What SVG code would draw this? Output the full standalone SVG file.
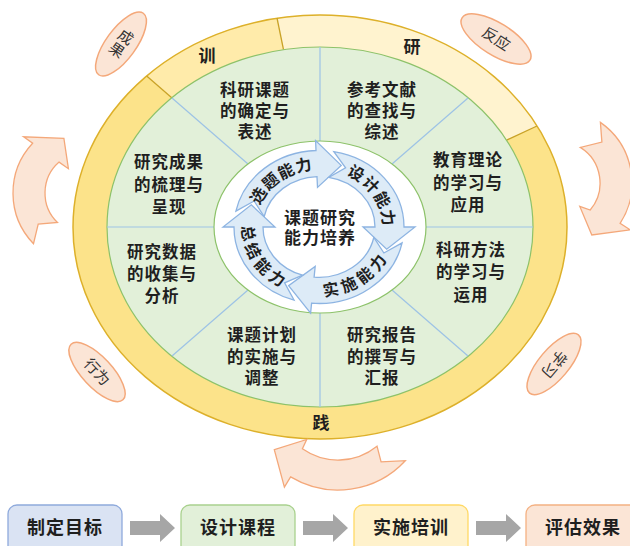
<svg xmlns="http://www.w3.org/2000/svg" width="630" height="546" viewBox="0 0 630 546">
<style>
.t{font-family:"Noto Sans CJK SC","Noto Sans",sans-serif;font-weight:700;fill:#1f1f1f}
.sec{font-size:16.5px;letter-spacing:1px;text-anchor:middle}
.ring{font-size:17px;text-anchor:middle}
.arc{font-size:16px;letter-spacing:1px;text-anchor:middle}
.arc2{font-size:16px;letter-spacing:4px;text-anchor:middle}
.ctr{font-size:17px;letter-spacing:1px;text-anchor:middle}
.box{font-size:18px;letter-spacing:1px;text-anchor:middle}
.lbl{font-family:"Noto Sans CJK SC",sans-serif;font-size:15px;fill:#333;text-anchor:middle}
.oval{fill:#FBE5D6;stroke:#F4A87A;stroke-width:1.5}
.carrow{fill:#FBE5D6;stroke:#F4A87A;stroke-width:1.3}
.barrow{fill:#DDEBF7;stroke:#8DB4E2;stroke-width:1.3}
.div{stroke:#9DC3E6;stroke-width:1.2}
.seg{stroke:#C9A227;stroke-width:1.3}
.garrow{fill:#A6A6A6}
</style>
<defs>
<path id="tp1" d="M257.2,212.1 A64,57.6 0 0 1 320.1,169.4"/>
<path id="tp2" d="M340.9,172.9 A64,57.6 0 0 1 382.6,233.0"/>
<path id="tp3" d="M312.3,296.0 A77,69.3 0 0 0 393.4,244.9"/>
<path id="tp4" d="M243.2,215.0 A77,69.3 0 0 0 295.2,292.9"/>
</defs>
<rect width="630" height="546" fill="#fff"/>
<g id="wheel">
<ellipse cx="320" cy="227" rx="247" ry="212" fill="#FCE38A"/>
<path d="M320,227 L146.7,76 A247,212 0 0 1 277,18 Z" fill="#FFEBAA"/>
<path d="M320,227 L277,18 A247,212 0 0 1 537,126 Z" fill="#FFF3CF"/>
<ellipse cx="320" cy="227" rx="247" ry="212" fill="none" stroke="#DDB02A" stroke-width="1.5"/>
<line class="seg" x1="146.7" y1="76" x2="172" y2="98"/>
<line class="seg" x1="277" y1="18" x2="283.5" y2="49.7"/>
<line class="seg" x1="537" y1="126" x2="506.6" y2="140.1"/>
<ellipse cx="320" cy="227" rx="213" ry="180" fill="#E2F0D9" stroke="#8DC26A" stroke-width="1.2"/>
<g class="div">
<line x1="320" y1="47" x2="320" y2="141"/>
<line x1="320" y1="313" x2="320" y2="407"/>
<line x1="107" y1="227" x2="214" y2="227"/>
<line x1="426" y1="227" x2="533" y2="227"/>
<line x1="172" y1="98" x2="248" y2="164"/>
<line x1="468" y1="98" x2="392" y2="164"/>
<line x1="172" y1="356" x2="248" y2="290"/>
<line x1="468" y1="356" x2="392" y2="290"/>
</g>
<ellipse cx="320" cy="227" rx="106" ry="86" fill="#fff" stroke="#8DC26A" stroke-width="1.2"/>
</g>
<g id="ring-labels">
<text class="t ring" x="207" y="62">训</text>
<text class="t ring" x="412" y="53">研</text>
<text class="t ring" x="321" y="429">践</text>
</g>
<g id="s1"><text class="t sec"><tspan x="255" y="96">科研课题</tspan><tspan x="255" y="117">的确定与</tspan><tspan x="255" y="138">表述</tspan></text></g>
<g id="s2"><text class="t sec"><tspan x="382" y="96">参考文献</tspan><tspan x="382" y="117">的查找与</tspan><tspan x="382" y="138">综述</tspan></text></g>
<g id="s3"><text class="t sec"><tspan x="468" y="166">教育理论</tspan><tspan x="468" y="189">的学习与</tspan><tspan x="468" y="211">应用</tspan></text></g>
<g id="s4"><text class="t sec"><tspan x="471" y="256">科研方法</tspan><tspan x="471" y="278">的学习与</tspan><tspan x="471" y="301">运用</tspan></text></g>
<g id="s5"><text class="t sec"><tspan x="382" y="341">研究报告</tspan><tspan x="382" y="363">的撰写与</tspan><tspan x="382" y="384">汇报</tspan></text></g>
<g id="s6"><text class="t sec"><tspan x="262" y="341">课题计划</tspan><tspan x="262" y="363">的实施与</tspan><tspan x="262" y="384">调整</tspan></text></g>
<g id="s7"><text class="t sec"><tspan x="162" y="258">研究数据</tspan><tspan x="162" y="280">的收集与</tspan><tspan x="162" y="302">分析</tspan></text></g>
<g id="s8"><text class="t sec"><tspan x="169" y="168">研究成果</tspan><tspan x="169" y="191">的梳理与</tspan><tspan x="169" y="213">呈现</tspan></text></g>
<g id="cycle-select">
<path class="barrow" d="M235.9,211.1 A85,76.5 0 0 1 316,150.5 L315.6,140.6 L341.2,165.4 L317.5,187.4 L317,176.6 A56,50.4 0 0 0 264.2,216.5 L254.1,201 Z"/>
<text class="t arc"><textPath href="#tp1" startOffset="50%">选题能力</textPath></text>
</g>
<g id="cycle-design">
<path class="barrow" d="M333.8,151.7 A85,76.5 0 0 1 404,227 L415,227 L386.7,249.2 L363,227 L375,227 A56,50.4 0 0 0 328.7,177.4 L345.6,167.8 Z"/>
<text class="t arc"><textPath href="#tp2" startOffset="50%">设计能力</textPath></text>
</g>
<g id="cycle-implement">
<path class="barrow" d="M402.1,242.9 A85,76.5 0 0 1 311.6,303.2 L310.6,313.1 L288.6,285.7 L315.2,266.4 L314.1,277.2 A56,50.4 0 0 0 373.8,237.5 L383.9,253 Z"/>
<text class="t arc2"><textPath href="#tp3" startOffset="50%">实施能力</textPath></text>
</g>
<g id="cycle-summary">
<path class="barrow" d="M294.1,300.2 A85,76.5 0 0 1 234,227 L223,227 L251.3,204.8 L275,227 L263,227 A56,50.4 0 0 0 302.6,275.2 L284.6,282.9 Z"/>
<text class="t arc2"><textPath href="#tp4" startOffset="50%">总结能力</textPath></text>
</g>
<g id="center"><text class="t ctr"><tspan x="320" y="224">课题研究</tspan><tspan x="320" y="244">能力培养</tspan></text></g>
<g id="label-chengguo"><ellipse class="oval" rx="38" ry="15" transform="translate(121,44) rotate(-54)"/><text class="lbl" transform="translate(125.6,37.5) rotate(35)" y="5">成</text><text class="lbl" transform="translate(116.4,50.5) rotate(35)" y="5">果</text></g>
<g id="label-fanying"><ellipse class="oval" rx="40" ry="16" transform="translate(496,39) rotate(32)"/><text class="lbl" transform="translate(496,39) rotate(33)" y="5">反应</text></g>
<g id="label-xingwei"><ellipse class="oval" rx="38" ry="15" transform="translate(97,372) rotate(47)"/><text class="lbl" transform="translate(97,372) rotate(47)" y="5">行为</text></g>
<g id="label-xuexi"><ellipse class="oval" rx="38" ry="15" transform="translate(554,364) rotate(-50)"/><text class="lbl" transform="translate(554,364) rotate(130)" y="5">学习</text></g>
<g id="connectors">
<path class="carrow" d="M33.5,243.7 A73,73 0 0 1 32.6,143.2 L23.6,136.8 L63.9,138.3 L68.4,168.7 L59.1,162.1 A41,41 0 0 0 57.5,222.5 L38.2,224 Z"/>
<path class="carrow" d="M600.4,122.4 A74,74 0 0 1 620.1,223.3 L630.1,229.8 L591.8,235 L579.8,206.4 L590.2,210 A42,42 0 0 0 580.3,147.4 L601.9,142.1 Z"/>
<path class="carrow" d="M405.3,460.7 A92,92 0 0 1 290.6,476.9 L284.4,487.1 L274.3,449.6 L306.7,439.5 L302.4,448.8 A62,62 0 0 0 377,446.2 L381.1,461.8 Z"/>
<path class="garrow" d="M130,521 H160 V514 L175,528 L160,542 V535 H130 Z"/>
<path class="garrow" d="M303,521 H333 V514 L348,528 L333,542 V535 H303 Z"/>
<path class="garrow" d="M476,521 H506 V514 L521,528 L506,542 V535 H476 Z"/>
</g>
<g id="box1"><rect x="8" y="505" width="114" height="60" rx="9" fill="#DAE3F3" stroke="#8FAADC" stroke-width="1.3"/><text class="t box" x="65" y="534">制定目标</text></g>
<g id="box2"><rect x="181" y="505" width="114" height="60" rx="9" fill="#E2F0D9" stroke="#A9D18E" stroke-width="1.3"/><text class="t box" x="238" y="534">设计课程</text></g>
<g id="box3"><rect x="354" y="505" width="114" height="60" rx="9" fill="#FFF2CC" stroke="#FFD966" stroke-width="1.3"/><text class="t box" x="411" y="534">实施培训</text></g>
<g id="box4"><rect x="526" y="505" width="114" height="60" rx="9" fill="#FBE5D6" stroke="#F4B183" stroke-width="1.3"/><text class="t box" x="583" y="534">评估效果</text></g>
</svg>
